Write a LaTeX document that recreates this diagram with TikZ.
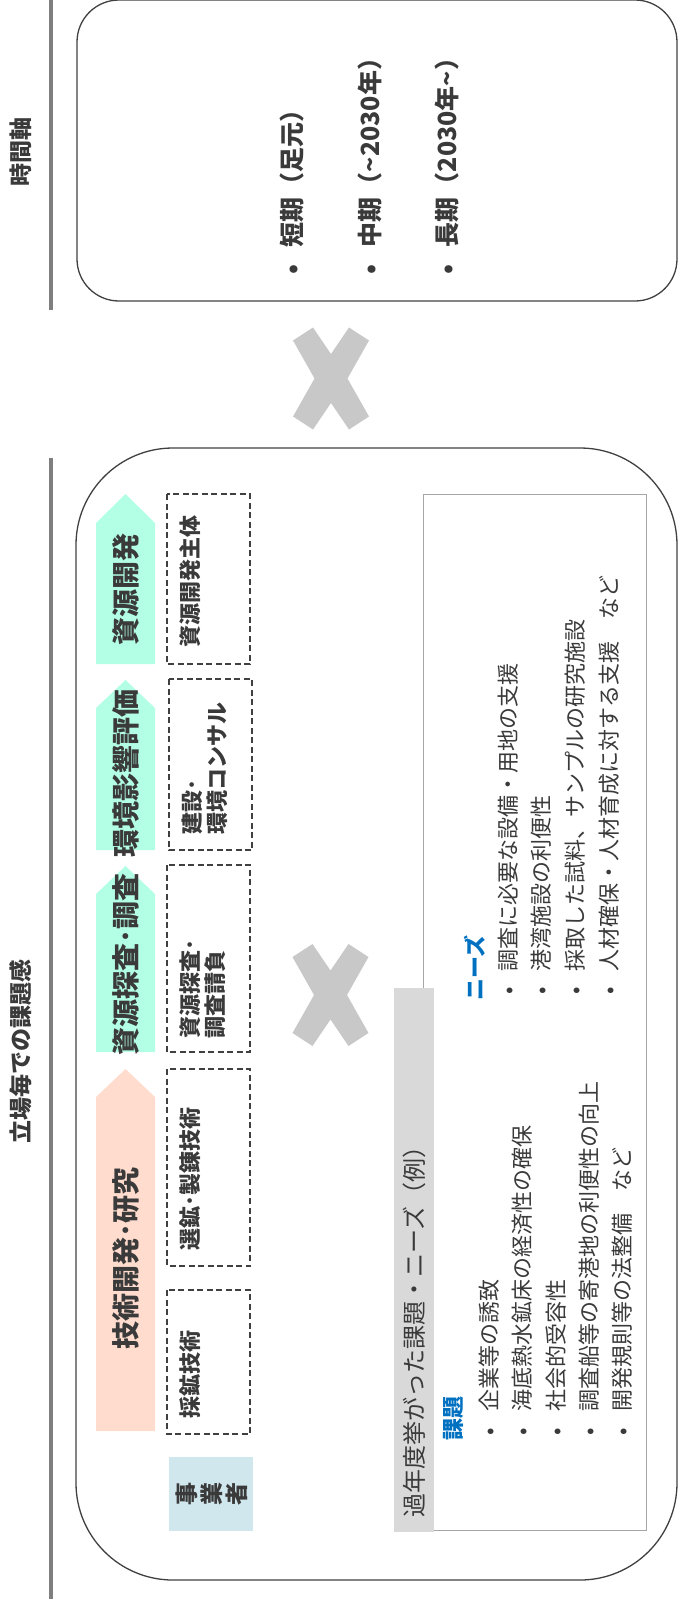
\documentclass[tikz,border=0pt]{standalone}
\usepackage{fontspec}
\setmainfont{Noto Sans CJK JP}
\definecolor{txt}{HTML}{3A3A3A}
\definecolor{peach}{HTML}{FFDCCE}
\definecolor{mint}{HTML}{B3FFE5}
\definecolor{agent}{HTML}{D0E7EE}
\definecolor{band}{HTML}{D9D9D9}
\definecolor{frame}{HTML}{A6A6A6}
\definecolor{xgray}{HTML}{C8C8C8}
\definecolor{axis}{HTML}{7F7F7F}
\definecolor{boxline}{HTML}{404040}
\definecolor{blue1}{HTML}{0070C0}
\newcommand\fs[2]{\fontsize{#1}{#2}\selectfont}
\begin{document}
\begin{tikzpicture}[x=1pt,y=-1pt,
  every node/.style={inner sep=0pt,outer sep=0pt,text=txt},
  vtext/.style={rotate=90},
  item/.style={rotate=90,anchor=west},
  panel/.style={draw=boxline,line width=1.3pt},
  axisline/.style={draw=axis,line width=4pt},
  dashbox/.style={draw=boxline,line width=1.2pt,dash pattern=on 6pt off 3.5pt},
  arrowlabel/.style={rotate=90,font=\bfseries\fs{28}{30}},
  boxlabel/.style={rotate=90,anchor=north west,align=left,font=\bfseries\fs{22}{25}},
  listitem/.style={rotate=90,anchor=west,font=\fs{22}{24}},
  cross/.style={fill=xgray}]
\useasboundingbox (0,0) rectangle (678,1599);

% ---------- time axis panel ----------
\draw[axisline] (51,0) -- (51,310);
\node[vtext,font=\bfseries\fs{23}{26}] (taxis) at (21,152) {時間軸};
\draw[panel,rounded corners=42pt] (77,0) rectangle (677,301);
\node[item,font=\bfseries\fs{25}{28}] (p1) at (292,269) {\makebox[0pt]{•}\hspace{22pt}短期（足元）};
\node[item,font=\bfseries\fs{25}{28}] (p2) at (370,269) {\makebox[0pt]{•}\hspace{22pt}中期（\textasciitilde2030年）};
\node[item,font=\bfseries\fs{25}{28}] (p3) at (447,269) {\makebox[0pt]{•}\hspace{22pt}長期（2030年\textasciitilde）};

% ---------- cross between panels ----------
\begin{scope}[shift={(331,378.5)}]
\fill[cross] (-38,-38) -- (-18,-51) -- (0,-24.5) -- (18,-51) -- (38,-38) -- (16.5,0)
  -- (38,38) -- (18,51) -- (0,24.5) -- (-18,51) -- (-38,38) -- (-16.5,0) -- cycle;
\end{scope}

% ---------- stakeholder panel ----------
\draw[axisline] (51,458) -- (51,1599);
\node[vtext,font=\bfseries\fs{23}{26}] (tstake) at (21,1051) {立場毎での課題感};
\draw[panel,rounded corners=97pt] (76,448) rectangle (677,1580);

% arrows (phases)
\fill[peach] (96,1431) -- (96,1097) -- (125.5,1069) -- (155,1097) -- (155,1431) -- cycle;
\fill[mint] (96,1052) -- (96,894) -- (125.5,866) -- (155,894) -- (155,1052) -- cycle;
\fill[mint] (96,850) -- (96,708) -- (125.5,680) -- (155,708) -- (155,850) -- cycle;
\fill[mint] (96,664) -- (96,523) -- (125.5,494) -- (155,523) -- (155,664) -- cycle;
\node[arrowlabel] (a1) at (125.5,1258) {技術開発･研究};
\node[arrowlabel] (a2) at (125.5,964) {資源探査･調査};
\node[arrowlabel] (a3) at (125.5,773) {環境影響評価};
\node[arrowlabel] (a4) at (125.5,589) {資源開発};

% dashed actor boxes
\draw[dashbox] (167,1290) rectangle (250,1434);
\draw[dashbox] (167,1069) rectangle (250,1266);
\draw[dashbox] (167,865) rectangle (250,1052);
\draw[dashbox] (169,679) rectangle (252,850);
\draw[dashbox] (167,494) rectangle (250,664);
\node[boxlabel] (b1) at (180,1418) {採鉱技術};
\node[boxlabel] (b2) at (180,1250) {選鉱･製錬技術};
\node[boxlabel] (b3) at (180,1038) {資源探査･\\調査請負};
\node[boxlabel] (b4) at (182,834) {建設･\\環境コンサル};
\node[boxlabel] (b5) at (180,647) {資源開発主体};

% business operator tag
\fill[agent] (169,1457) rectangle (253,1531);
\node[vtext,align=center,font=\bfseries\fs{23}{25}] (agent) at (212,1494) {事\\業\\者};

% second cross
\begin{scope}[shift={(330.5,995)}]
\fill[cross] (-38,-38) -- (-18,-51) -- (0,-24.5) -- (18,-51) -- (38,-38) -- (16.5,0)
  -- (38,38) -- (18,51) -- (0,24.5) -- (-18,51) -- (-38,38) -- (-16.5,0) -- cycle;
\end{scope}

% issues / needs box
\draw[draw=frame,line width=1pt] (423,494) rectangle (646,1530);
\fill[band] (394,988) rectangle (434,1532);
\node[item,font=\fs{24}{26}] (head) at (414,1517) {過年度挙がった課題・ニーズ（例）};

\node[item,font=\bfseries\fs{22}{24},text=blue1] (kadai) at (454,1440) {課題};
\node[listitem] (k1) at (489,1432) {\makebox[0pt]{•}\hspace{21pt}企業等の誘致};
\node[listitem] (k2) at (522,1432) {\makebox[0pt]{•}\hspace{21pt}海底熱水鉱床の経済性の確保};
\node[listitem] (k3) at (556,1432) {\makebox[0pt]{•}\hspace{21pt}社会的受容性};
\node[listitem] (k4) at (589,1432) {\makebox[0pt]{•}\hspace{21pt}調査船等の寄港地の利便性の向上};
\node[listitem] (k5) at (622,1432) {\makebox[0pt]{•}\hspace{21pt}開発規則等の法整備　など};

\node[item,font=\bfseries\fs{22}{24},text=blue1] (needs) at (475,1000) {ニーズ};
\node[listitem] (n1) at (508,991) {\makebox[0pt]{•}\hspace{20pt}調査に必要な設備・用地の支援};
\node[listitem] (n2) at (541,991) {\makebox[0pt]{•}\hspace{20pt}港湾施設の利便性};
\node[listitem] (n3) at (575,991) {\makebox[0pt]{•}\hspace{20pt}採取した試料、サンプルの研究施設};
\node[listitem] (n4) at (609,991) {\makebox[0pt]{•}\hspace{20pt}人材確保・人材育成に対する支援　など};
\end{tikzpicture}
\end{document}
